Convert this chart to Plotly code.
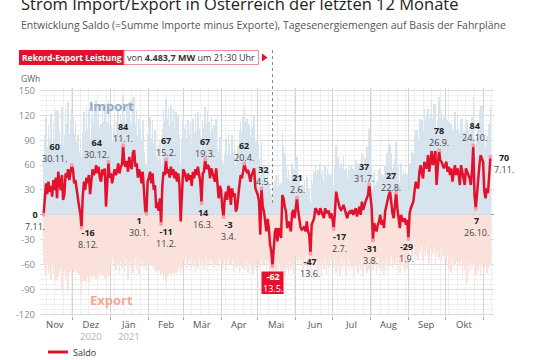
import plotly.graph_objects as go
import pandas as pd

# ---------------- data (GWh per day) ----------------
start_date = "2020-11-07"
end_date = "2021-11-07"

saldo_nov20 = [0, 22, 38, 25, 40, 28, 35, 22, 42, 30, 45, 20, 52, 38, 30, 48, 18, 25, 50, 45, 55, 42, 50, 60]
saldo_dec20 = [55, 38, 42, 30, 20, 10, 2, -16, 22, 40, 30, 45, 38, 48, 25, 42, 55, 48, 52, 60, 50, 58, 44, 40, 55, 48, 56, 10, 40, 64, 45]
saldo_jan21 = [50, 38, 45, 55, 48, 52, 62, 50, 58, 60, 84, 62, 58, 65, 52, 70, 60, 55, 75, 78, 58, 62, 45, 55, 50, 38, 52, 20, 6, 1, 40]
saldo_feb21 = [45, 52, 38, 50, 30, 36, 8, 15, 5, 20, -11, 35, 52, 48, 67, 50, 55, 45, 58, 48, 55, 44, 52, 40, 50, 36, -8, 30]
saldo_mar21 = [55, 52, 45, 40, 50, 42, 48, 35, 52, 44, 55, 48, 58, 50, 40, 14, 50, 52, 67, 55, 60, 58, 44, 56, 50, 46, 40, 56, 30, 20, 35]
saldo_apr21 = [30, 8, -3, 20, 28, 18, 35, 30, 12, 32, 22, 26, 4, 8, 25, 36, 48, 44, 52, 62, 55, 52, 54, 45, 40, 48, 52, 56, 32, 28]
saldo_may21 = [24, 16, -24, 32, 10, 4, -8, -20, -5, -16, -36, -44, -62, -38, -20, -16, -32, -16, -22, -28, 24, 20, 10, 4, -16, -8, -12, -20, 2, 6, -4]
saldo_jun21 = [12, 21, 4, -10, -16, -18, -16, -14, -20, -8, -20, -24, -47, -12, -8, -4, 8, 6, 2, 0, 8, 4, 2, -4, 8, 2, 4, 4, -4, 2]
saldo_jul21 = [-5, -17, 4, 28, 20, 12, 8, 6, 8, 12, 6, 0, -4, 2, 4, 2, 6, 0, 4, 8, -2, 5, 10, 0, 16, 6, 12, 16, 20, 24, 37]
saldo_aug21 = [20, 8, -31, -10, -16, -20, -12, -8, 0, -12, -6, -16, 4, 12, 20, 24, 28, 12, 2, -4, 14, 27, 8, -4, -16, 0, -6, -8, -4, -12, -6]
saldo_sep21 = [-29, 2, 8, 12, 16, 28, 40, 34, 32, 52, 60, 50, 44, 64, 58, 56, 72, 52, 66, 77, 60, 70, 77, 36, 56, 78, 66, 64, 60, 56]
saldo_oct21 = [60, 64, 52, 58, 48, 56, 40, 50, 60, 48, 56, 50, 36, 60, 52, 46, 36, 56, 52, 48, 44, 36, 54, 84, 24, 7, 28, 44, 60, 72, 68]
saldo_nov21 = [64, 28, 20, 32, 26, 48, 70]

import_nov20 = [70, 95, 118, 82, 108, 92, 122, 80, 112, 90, 126, 78, 125, 100, 86, 130, 84, 96, 128, 110, 136, 98, 115, 128]
import_dec20 = [120, 98, 112, 88, 96, 76, 88, 70, 100, 124, 100, 130, 104, 128, 92, 118, 134, 112, 125, 138, 114, 132, 106, 110, 130, 112, 134, 80, 112, 138, 108]
import_jan21 = [108, 88, 104, 118, 96, 112, 126, 100, 122, 114, 145, 118, 110, 132, 104, 136, 112, 108, 140, 142, 110, 126, 96, 116, 104, 90, 114, 76, 62, 58, 98]
import_feb21 = [105, 118, 92, 114, 86, 102, 70, 84, 66, 88, 60, 104, 128, 112, 140, 116, 130, 108, 132, 112, 128, 104, 124, 100, 120, 96, 62, 92]
import_mar21 = [116, 104, 108, 92, 114, 96, 112, 86, 116, 98, 122, 102, 124, 104, 96, 72, 114, 106, 130, 110, 126, 112, 98, 118, 104, 108, 92, 116, 82, 76, 94]
import_apr21 = [92, 64, 62, 74, 92, 72, 98, 86, 74, 96, 76, 90, 58, 72, 82, 102, 112, 100, 118, 128, 112, 116, 110, 108, 96, 112, 106, 120, 88, 90]
import_may21 = [84, 68, 44, 88, 58, 60, 42, 38, 54, 36, 30, 24, 18, 34, 40, 48, 30, 48, 36, 38, 98, 82, 74, 58, 44, 54, 42, 40, 62, 56, 54]
import_jun21 = [64, 70, 48, 44, 30, 36, 32, 42, 28, 46, 28, 32, 15, 42, 38, 52, 60, 50, 54, 44, 62, 48, 54, 42, 60, 46, 56, 50, 48, 52]
import_jul21 = [54, 36, 58, 84, 68, 70, 56, 62, 56, 70, 54, 56, 44, 58, 54, 60, 56, 56, 54, 66, 46, 62, 60, 56, 74, 56, 70, 68, 82, 78, 104]
import_aug21 = [78, 58, 30, 52, 36, 40, 42, 54, 56, 50, 48, 46, 60, 74, 76, 86, 84, 74, 56, 58, 68, 88, 62, 58, 40, 62, 48, 54, 50, 50, 48]
import_sep21 = [30, 62, 62, 76, 74, 96, 102, 102, 92, 116, 116, 114, 100, 128, 114, 120, 128, 116, 122, 138, 116, 134, 134, 102, 114, 142, 122, 126, 114, 118]
import_oct21 = [122, 118, 114, 112, 108, 110, 102, 104, 124, 102, 119, 104, 99, 116, 116, 100, 100, 112, 114, 102, 106, 90, 118, 142, 92, 70, 94, 102, 126, 132, 132]
import_nov21 = [125, 92, 82, 95, 90, 110, 130]

export_nov20 = [-58, -66, -72, -60, -70, -65, -78, -60, -72, -66, -80, -62, -75, -70, -64, -90, -72, -66, -80, -74, -92, -70, -68, -74]
export_dec20 = [-65, -68, -70, -66, -70, -72, -82, -96, -80, -78, -80, -82, -74, -82, -75, -74, -76, -72, -74, -78, -72, -75, -70, -72, -75, -72, -76, -78, -70, -76, -72]
export_jan21 = [-58, -52, -62, -55, -66, -50, -60, -72, -56, -64, -60, -68, -54, -62, -78, -58, -64, -56, -70, -60, -52, -66, -58, -72, -54, -62, -56, -64, -58, -66, -60]
export_feb21 = [-60, -60, -62, -58, -64, -66, -68, -70, -66, -68, -72, -70, -78, -72, -80, -74, -72, -70, -74, -68, -72, -66, -70, -68, -66, -62, -72, -64]
export_mar21 = [-56, -62, -52, -64, -58, -54, -66, -50, -62, -56, -70, -58, -64, -52, -60, -62, -56, -66, -60, -54, -68, -58, -52, -62, -56, -64, -54, -60, -56, -62, -52]
export_apr21 = [-58, -64, -60, -56, -66, -58, -52, -62, -60, -54, -68, -58, -64, -56, -62, -70, -60, -64, -58, -66, -62, -56, -70, -60, -64, -58, -72, -66, -62, -68]
export_may21 = [-56, -60, -64, -53, -58, -62, -54, -66, -55, -60, -72, -69, -82, -68, -62, -70, -64, -74, -60, -68, -71, -65, -76, -58, -64, -70, -57, -66, -60, -72, -62]
export_jun21 = [-48, -52, -58, -50, -62, -54, -66, -52, -60, -50, -70, -56, -72, -54, -62, -58, -64, -52, -70, -56, -62, -76, -58, -66, -54, -72, -60, -64, -52, -58]
export_jul21 = [-56, -64, -52, -70, -58, -62, -74, -54, -66, -60, -56, -72, -62, -52, -68, -58, -64, -76, -56, -62, -54, -70, -60, -66, -52, -74, -58, -64, -70, -60, -66]
export_aug21 = [-54, -60, -66, -56, -62, -70, -52, -64, -58, -68, -56, -72, -60, -54, -66, -58, -62, -50, -64, -56, -60, -52, -66, -58, -70, -56, -62, -54, -68, -60, -64]
export_sep21 = [-46, -38, -44, -50, -36, -52, -48, -40, -54, -42, -46, -38, -56, -44, -50, -36, -48, -58, -42, -54, -46, -40, -60, -48, -44, -52, -38, -56, -46, -50]
export_oct21 = [-54, -62, -50, -66, -58, -70, -52, -64, -60, -56, -72, -58, -62, -54, -76, -60, -66, -56, -82, -62, -70, -58, -64, -60, -86, -72, -64, -68, -60, -74, -62]
export_nov21 = [-60, -64, -62, -70, -64, -62, -60]

highlight_dates = ["2020-11-07", "2020-11-30", "2020-12-08", "2020-12-30", "2021-01-11", "2021-01-30",
                   "2021-02-11", "2021-02-15", "2021-03-16", "2021-03-19", "2021-04-03", "2021-04-20",
                   "2021-05-04", "2021-06-02", "2021-06-13", "2021-07-02", "2021-07-31", "2021-08-03",
                   "2021-08-22", "2021-09-01", "2021-09-26", "2021-10-24", "2021-10-26", "2021-11-07"]
record_date = "2021-05-13"

month_label_dates = ["2020-11-16", "2020-12-16", "2021-01-16", "2021-02-15", "2021-03-16", "2021-04-16",
                     "2021-05-16", "2021-06-16", "2021-07-16", "2021-08-16", "2021-09-16", "2021-10-16"]
month_labels = ["Nov", "Dez", "Jän", "Feb", "Mär", "Apr", "Mai", "Jun", "Jul", "Aug", "Sep", "Okt"]
month_years = ["", "2020", "2021", "", "", "", "", "", "", "", "", ""]
month_starts = ["2020-12-01", "2021-01-01", "2021-02-01", "2021-03-01", "2021-04-01", "2021-05-01",
                "2021-06-01", "2021-07-01", "2021-08-01", "2021-09-01", "2021-10-01", "2021-11-01"]
y_ticks = [-120, -90, -60, -30, 30, 60, 90, 120, 150]

# ---------------- assemble ----------------
saldo = (saldo_nov20 + saldo_dec20 + saldo_jan21 + saldo_feb21 + saldo_mar21 + saldo_apr21 + saldo_may21
         + saldo_jun21 + saldo_jul21 + saldo_aug21 + saldo_sep21 + saldo_oct21 + saldo_nov21)
imports = (import_nov20 + import_dec20 + import_jan21 + import_feb21 + import_mar21 + import_apr21 + import_may21
           + import_jun21 + import_jul21 + import_aug21 + import_sep21 + import_oct21 + import_nov21)
exports = (export_nov20 + export_dec20 + export_jan21 + export_feb21 + export_mar21 + export_apr21 + export_may21
           + export_jun21 + export_jul21 + export_aug21 + export_sep21 + export_oct21 + export_nov21)
dates = pd.date_range(start_date, end_date, freq="D")
n = min(len(dates), len(saldo), len(imports), len(exports))
dates = dates[:n]
saldo, imports, exports = saldo[:n], imports[:n], exports[:n]
series = pd.Series(saldo, index=dates)

# ---------------- layout helpers (pixel -> paper) ----------------
W, H = 540, 360
ML, MR, MT, MB = 40, 46, 88, 44
PW, PH = W - ML - MR, H - MT - MB
def px(x):
    return (x - ML) / PW
def py(y):
    return (H - MB - y) / PH

RED = "#e3122c"
FONT = "Open Sans"

fig = go.Figure()
fig.add_trace(go.Bar(x=dates, y=imports, marker=dict(color="#d7e3ed", line=dict(width=0)),
                     showlegend=False, hoverinfo="skip"))
fig.add_trace(go.Bar(x=dates, y=exports, marker=dict(color="#fbe1db", line=dict(width=0)),
                     showlegend=False, hoverinfo="skip"))
fig.add_trace(go.Scatter(x=dates, y=saldo, mode="lines", line=dict(color=RED, width=2.5),
                         name="Saldo", showlegend=False))
hl = pd.to_datetime(highlight_dates + [record_date])
fig.add_trace(go.Scatter(x=hl, y=[series[d] for d in hl], mode="markers",
                         marker=dict(color="#f6a0ad", size=4), showlegend=False))

# label placement (x shift px, y px of value line)
label_pos = [(-9, 215), (-17, 147), (6, 233), (-12, 143), (0, 127), (-7, 220.5),
             (5, 232), (0, 140.5), (1, 212.5), (0, 141.5), (5, 225), (0, 146),
             (2.5, 169.5), (1, 178), (0, 261.5), (6, 236.5), (-5, 166.5), (-2, 249),
             (-5, 176), (-2, 246.5), (0, 131), (1, 125.5), (1, 221), (14, 157.5)]

def A(**kw):
    base = dict(showarrow=False, xanchor="center", yanchor="middle")
    base.update(kw)
    return base

ann = []
for d, (dx, yv) in zip(pd.to_datetime(highlight_dates), label_pos):
    v = int(series[d])
    ann.append(A(x=d, xref="x", xshift=dx, y=py(yv + 5.5), yref="paper",
                 text=f"<b>{v}</b><br><span style='color:#444'>{d.day}.{d.month}.</span>",
                 font=dict(size=9, color="#222", family=FONT)))

# record box
rd = pd.Timestamp(record_date)
ann.append(A(x=rd, xref="x", y=py(282.5), yref="paper",
             text=f"<b>{int(series[rd])}</b><br>{rd.day}.{rd.month}.",
             font=dict(size=9, color="white", family=FONT)))

# month labels (with year under Dez / Jän)
for d, t, yr in zip(month_label_dates, month_labels, month_years):
    if yr:
        ann.append(A(x=d, xref="x", y=py(330), yref="paper",
                     text=f"{t}<br><span style='color:#b3b3b3'>{yr}</span>",
                     font=dict(size=9.5, color="#555", family=FONT)))
    else:
        ann.append(A(x=d, xref="x", y=py(324), yref="paper", text=t,
                     font=dict(size=9.5, color="#555", family=FONT)))

# texts
ann += [
    A(x=px(19), y=py(4), xref="paper", yref="paper", xanchor="left",
      text="Strom Import/Export in Österreich der letzten 12 Monate",
      font=dict(size=16.5, color="#222", family=FONT)),
    A(x=px(19), y=py(25.5), xref="paper", yref="paper", xanchor="left",
      text="Entwicklung Saldo (=Summe Importe minus Exporte), Tagesenergiemengen auf Basis der Fahrpläne",
      font=dict(size=10.5, color="#555", family=FONT)),
    A(x=px(71.5), y=py(57.5), xref="paper", yref="paper",
      text="<b>Rekord-Export Leistung</b>", font=dict(size=8.5, color="white", family=FONT)),
    A(x=px(191), y=py(57.5), xref="paper", yref="paper",
      text="von <b>4.483,7 MW</b> um 21:30 Uhr", font=dict(size=9, color="#333", family=FONT)),
    A(x=px(19), y=py(78.5), xref="paper", yref="paper", xanchor="left",
      text="GWh", font=dict(size=8.5, color="#666", family=FONT)),
    A(x=px(111), y=py(105.5), xref="paper", yref="paper",
      text="<b>Import</b>", font=dict(size=13, color="#93abc1", family=FONT)),
    A(x=px(111), y=py(300), xref="paper", yref="paper",
      text="<b>Export</b>", font=dict(size=13, color="#f3a796", family=FONT)),
    A(x=px(71), y=py(352), xref="paper", yref="paper", xanchor="left",
      text="Saldo", font=dict(size=9, color="#333", family=FONT)),
]

shapes = [
    dict(type="rect", xref="paper", yref="paper", x0=px(19), x1=px(124), y0=py(65), y1=py(50),
         fillcolor=RED, line=dict(width=0)),
    dict(type="rect", xref="paper", yref="paper", x0=px(124), x1=px(258.5), y0=py(64.5), y1=py(50.5),
         fillcolor="white", line=dict(color="#ef8d9b", width=1)),
    dict(type="path", xref="paper", yref="paper",
         path=f"M {px(262)} {py(53.5)} L {px(267.5)} {py(57.5)} L {px(262)} {py(61.5)} Z",
         fillcolor=RED, line=dict(width=0)),
    dict(type="line", x0=rd, x1=rd, xref="x", yref="paper", y0=py(50), y1=py(205),
         line=dict(color="#8a8a8a", width=1, dash="dot")),
    dict(type="rect", xref="x", yref="paper", x0=rd - pd.Timedelta(days=9), x1=rd + pd.Timedelta(days=9),
         y0=py(294), y1=py(271.5), fillcolor=RED, line=dict(width=0)),
    dict(type="line", xref="paper", yref="paper", x0=px(48), x1=px(68), y0=py(352), y1=py(352),
         line=dict(color=RED, width=3)),
]

fig.update_layout(
    width=W, height=H, margin=dict(l=ML, r=MR, t=MT, b=MB),
    paper_bgcolor="white", plot_bgcolor="white",
    barmode="relative", bargap=0.55,
    font=dict(family=FONT),
    annotations=ann, shapes=shapes, showlegend=False,
    xaxis=dict(range=["2020-11-04 02:00", "2021-11-09 22:00"], tickvals=month_starts,
               ticktext=[""] * len(month_starts), ticks="outside", ticklen=3, tickcolor="#aaaaaa",
               showgrid=True, gridcolor="#d4d4d4", gridwidth=1, zeroline=False, showline=False,
               minor=dict(dtick=7 * 86400000, tick0="2020-11-02", showgrid=True, gridcolor="#efefef",
                          ticks="")),
    yaxis=dict(range=[-122, 153], tickvals=y_ticks, ticktext=[str(v) for v in y_ticks],
               tickfont=dict(size=9.5, color="#7f8e9c", family=FONT), ticks="", ticklabelstandoff=4,
               showgrid=True, gridcolor="#dcdcdc", gridwidth=1,
               zeroline=True, zerolinecolor="#9a9a9a", zerolinewidth=1, showline=False,
               minor=dict(dtick=6, showgrid=True, gridcolor="#f0f0f0")),
)

fig.write_html("out.html", config={"displayModeBar": False},
               post_script="document.body.style.margin='0';document.body.style.padding='0';")
